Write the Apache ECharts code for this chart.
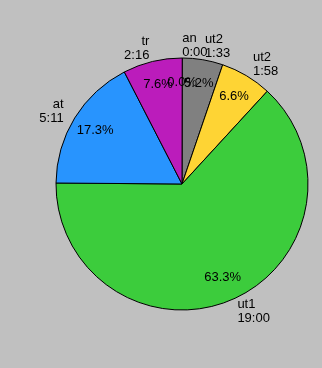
<!DOCTYPE html>
<html><head><meta charset="utf-8">
<script src="https://cdn.jsdelivr.net/npm/echarts@6/dist/echarts.min.js"></script>
<style>html,body{margin:0;padding:0;background:#c0c0c0;}#c{width:322px;height:368px;}</style>
</head><body><div id="c"></div>
<script>
const names = ['an', 'ut2', 'ut2', 'ut1', 'at', 'tr'];
// durations in minutes (with seconds as fraction); labels show truncated h:mm
const minutes = [0, 93.8, 118.8, 1140.3, 311.8, 136.8];
const colors = ['#808080', '#808080', '#fed434', '#3ccc3c', '#2894fe', '#bb1cbb'];

function hm(m) { const t = Math.floor(m); const h = Math.floor(t / 60), mm = t % 60; return h + ':' + (mm < 10 ? '0' : '') + mm; }
const total = minutes.reduce((a, b) => a + b, 0);
function pct(v) { return (v / total * 100).toFixed(1) + '%'; }

const data = names.map((n, i) => ({ name: n, value: minutes[i], itemStyle: { color: colors[i] } }));
const font = { fontFamily: 'Liberation Sans, Arial, sans-serif', fontSize: 13, color: '#000' };

const chart = echarts.init(document.getElementById('c'), null, { renderer: 'canvas' });
chart.setOption({
  backgroundColor: '#c0c0c0',
  animation: false,
  series: [
    {
      type: 'pie', center: [182, 184], radius: 126, startAngle: 89.9, clockwise: true,
      avoidLabelOverlap: false, minShowLabelAngle: 0,
      labelLayout: { hideOverlap: false },
      itemStyle: { borderColor: '#000', borderWidth: 1 },
      label: Object.assign({ show: true, position: 'outside', lineHeight: 14, distanceToLabelLine: 0,
        formatter: p => p.name + '\n' + hm(p.value) }, font),
      labelLine: { show: false, length: 13, length2: 0 },
      emphasis: { disabled: true },
      data: data
    },
    {
      type: 'pie', center: [182, 184], radius: [72, 126], startAngle: 89.9, clockwise: true,
      avoidLabelOverlap: false, silent: true, minShowLabelAngle: 0,
      labelLayout: { hideOverlap: false },
      itemStyle: { color: 'rgba(0,0,0,0)', borderWidth: 0 },
      label: Object.assign({ show: true, position: 'inside', rotate: 0, formatter: p => pct(p.value) }, font),
      labelLine: { show: false },
      emphasis: { disabled: true },
      data: names.map((n, i) => ({ name: n, value: minutes[i] }))
    }
  ]
});
</script></body></html>
